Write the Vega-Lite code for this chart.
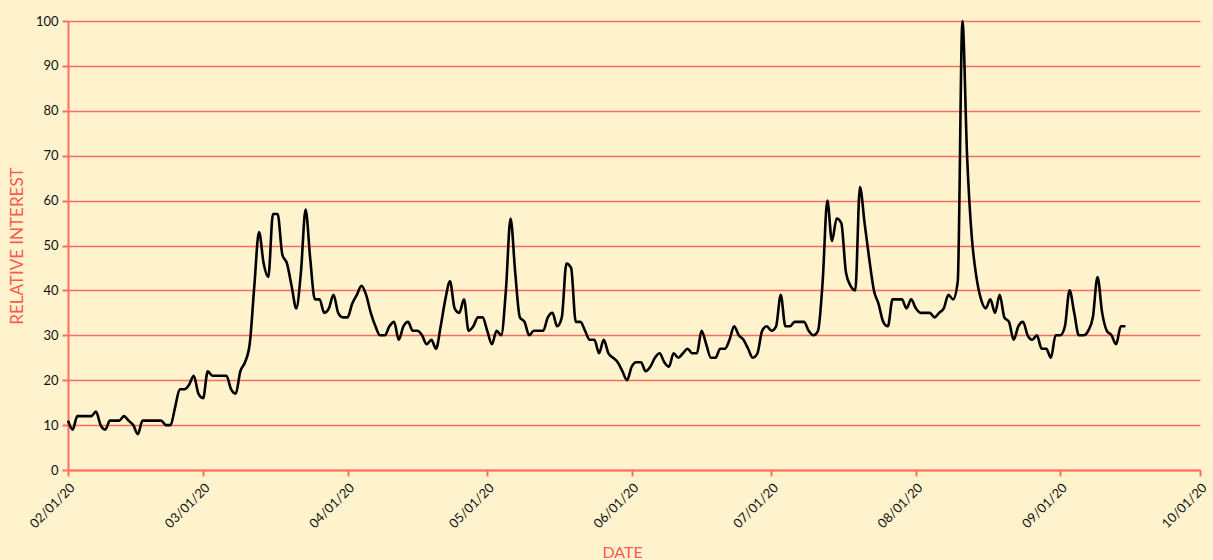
{
  "$schema": "https://vega.github.io/schema/vega-lite/v6.json",
  "width": 1132,
  "height": 449,
  "autosize": {"type": "none"},
  "padding": {"left": 68, "top": 21, "right": 13, "bottom": 90},
  "background": "#FFF3CE",
  "config": {
    "view": {"stroke": null},
    "font": "Lato",
    "axis": {
      "domainColor": "#FF6E5E",
      "domainWidth": 2,
      "tickColor": "#FF6E5E",
      "tickWidth": 2,
      "tickSize": 6,
      "gridColor": "#FF6A5C",
      "gridWidth": 1.3,
      "gridOpacity": 1,
      "labelColor": "#111111",
      "labelFont": "Lato",
      "labelFontSize": 13,
      "titleColor": "#FF5A4E",
      "titleFont": "Lato",
      "titleFontSize": 17,
      "titleFontWeight": "normal"
    }
  },
  "data": {
    "values": [
      {"date": "2020-02-01", "interest": 11},
      {"date": "2020-02-02", "interest": 9},
      {"date": "2020-02-03", "interest": 12},
      {"date": "2020-02-04", "interest": 12},
      {"date": "2020-02-05", "interest": 12},
      {"date": "2020-02-06", "interest": 12},
      {"date": "2020-02-07", "interest": 13},
      {"date": "2020-02-08", "interest": 10},
      {"date": "2020-02-09", "interest": 9},
      {"date": "2020-02-10", "interest": 11},
      {"date": "2020-02-11", "interest": 11},
      {"date": "2020-02-12", "interest": 11},
      {"date": "2020-02-13", "interest": 12},
      {"date": "2020-02-14", "interest": 11},
      {"date": "2020-02-15", "interest": 10},
      {"date": "2020-02-16", "interest": 8},
      {"date": "2020-02-17", "interest": 11},
      {"date": "2020-02-18", "interest": 11},
      {"date": "2020-02-19", "interest": 11},
      {"date": "2020-02-20", "interest": 11},
      {"date": "2020-02-21", "interest": 11},
      {"date": "2020-02-22", "interest": 10},
      {"date": "2020-02-23", "interest": 10},
      {"date": "2020-02-24", "interest": 14},
      {"date": "2020-02-25", "interest": 18},
      {"date": "2020-02-26", "interest": 18},
      {"date": "2020-02-27", "interest": 19},
      {"date": "2020-02-28", "interest": 21},
      {"date": "2020-02-29", "interest": 17},
      {"date": "2020-03-01", "interest": 16},
      {"date": "2020-03-02", "interest": 22},
      {"date": "2020-03-03", "interest": 21},
      {"date": "2020-03-04", "interest": 21},
      {"date": "2020-03-05", "interest": 21},
      {"date": "2020-03-06", "interest": 21},
      {"date": "2020-03-07", "interest": 18},
      {"date": "2020-03-08", "interest": 17},
      {"date": "2020-03-09", "interest": 22},
      {"date": "2020-03-10", "interest": 24},
      {"date": "2020-03-11", "interest": 28},
      {"date": "2020-03-12", "interest": 41},
      {"date": "2020-03-13", "interest": 53},
      {"date": "2020-03-14", "interest": 46},
      {"date": "2020-03-15", "interest": 43},
      {"date": "2020-03-16", "interest": 57},
      {"date": "2020-03-17", "interest": 57},
      {"date": "2020-03-18", "interest": 48},
      {"date": "2020-03-19", "interest": 46},
      {"date": "2020-03-20", "interest": 41},
      {"date": "2020-03-21", "interest": 36},
      {"date": "2020-03-22", "interest": 44},
      {"date": "2020-03-23", "interest": 58},
      {"date": "2020-03-24", "interest": 47},
      {"date": "2020-03-25", "interest": 38},
      {"date": "2020-03-26", "interest": 38},
      {"date": "2020-03-27", "interest": 35},
      {"date": "2020-03-28", "interest": 36},
      {"date": "2020-03-29", "interest": 39},
      {"date": "2020-03-30", "interest": 35},
      {"date": "2020-03-31", "interest": 34},
      {"date": "2020-04-01", "interest": 34},
      {"date": "2020-04-02", "interest": 37},
      {"date": "2020-04-03", "interest": 39},
      {"date": "2020-04-04", "interest": 41},
      {"date": "2020-04-05", "interest": 39},
      {"date": "2020-04-06", "interest": 35},
      {"date": "2020-04-07", "interest": 32},
      {"date": "2020-04-08", "interest": 30},
      {"date": "2020-04-09", "interest": 30},
      {"date": "2020-04-10", "interest": 32},
      {"date": "2020-04-11", "interest": 33},
      {"date": "2020-04-12", "interest": 29},
      {"date": "2020-04-13", "interest": 32},
      {"date": "2020-04-14", "interest": 33},
      {"date": "2020-04-15", "interest": 31},
      {"date": "2020-04-16", "interest": 31},
      {"date": "2020-04-17", "interest": 30},
      {"date": "2020-04-18", "interest": 28},
      {"date": "2020-04-19", "interest": 29},
      {"date": "2020-04-20", "interest": 27},
      {"date": "2020-04-21", "interest": 32},
      {"date": "2020-04-22", "interest": 38},
      {"date": "2020-04-23", "interest": 42},
      {"date": "2020-04-24", "interest": 36},
      {"date": "2020-04-25", "interest": 35},
      {"date": "2020-04-26", "interest": 38},
      {"date": "2020-04-27", "interest": 31},
      {"date": "2020-04-28", "interest": 32},
      {"date": "2020-04-29", "interest": 34},
      {"date": "2020-04-30", "interest": 34},
      {"date": "2020-05-01", "interest": 31},
      {"date": "2020-05-02", "interest": 28},
      {"date": "2020-05-03", "interest": 31},
      {"date": "2020-05-04", "interest": 30},
      {"date": "2020-05-05", "interest": 40},
      {"date": "2020-05-06", "interest": 56},
      {"date": "2020-05-07", "interest": 44},
      {"date": "2020-05-08", "interest": 34},
      {"date": "2020-05-09", "interest": 33},
      {"date": "2020-05-10", "interest": 30},
      {"date": "2020-05-11", "interest": 31},
      {"date": "2020-05-12", "interest": 31},
      {"date": "2020-05-13", "interest": 31},
      {"date": "2020-05-14", "interest": 34},
      {"date": "2020-05-15", "interest": 35},
      {"date": "2020-05-16", "interest": 32},
      {"date": "2020-05-17", "interest": 34},
      {"date": "2020-05-18", "interest": 46},
      {"date": "2020-05-19", "interest": 45},
      {"date": "2020-05-20", "interest": 33},
      {"date": "2020-05-21", "interest": 33},
      {"date": "2020-05-22", "interest": 31},
      {"date": "2020-05-23", "interest": 29},
      {"date": "2020-05-24", "interest": 29},
      {"date": "2020-05-25", "interest": 26},
      {"date": "2020-05-26", "interest": 29},
      {"date": "2020-05-27", "interest": 26},
      {"date": "2020-05-28", "interest": 25},
      {"date": "2020-05-29", "interest": 24},
      {"date": "2020-05-30", "interest": 22},
      {"date": "2020-05-31", "interest": 20},
      {"date": "2020-06-01", "interest": 23},
      {"date": "2020-06-02", "interest": 24},
      {"date": "2020-06-03", "interest": 24},
      {"date": "2020-06-04", "interest": 22},
      {"date": "2020-06-05", "interest": 23},
      {"date": "2020-06-06", "interest": 25},
      {"date": "2020-06-07", "interest": 26},
      {"date": "2020-06-08", "interest": 24},
      {"date": "2020-06-09", "interest": 23},
      {"date": "2020-06-10", "interest": 26},
      {"date": "2020-06-11", "interest": 25},
      {"date": "2020-06-12", "interest": 26},
      {"date": "2020-06-13", "interest": 27},
      {"date": "2020-06-14", "interest": 26},
      {"date": "2020-06-15", "interest": 26},
      {"date": "2020-06-16", "interest": 31},
      {"date": "2020-06-17", "interest": 28},
      {"date": "2020-06-18", "interest": 25},
      {"date": "2020-06-19", "interest": 25},
      {"date": "2020-06-20", "interest": 27},
      {"date": "2020-06-21", "interest": 27},
      {"date": "2020-06-22", "interest": 29},
      {"date": "2020-06-23", "interest": 32},
      {"date": "2020-06-24", "interest": 30},
      {"date": "2020-06-25", "interest": 29},
      {"date": "2020-06-26", "interest": 27},
      {"date": "2020-06-27", "interest": 25},
      {"date": "2020-06-28", "interest": 26},
      {"date": "2020-06-29", "interest": 31},
      {"date": "2020-06-30", "interest": 32},
      {"date": "2020-07-01", "interest": 31},
      {"date": "2020-07-02", "interest": 32},
      {"date": "2020-07-03", "interest": 39},
      {"date": "2020-07-04", "interest": 32},
      {"date": "2020-07-05", "interest": 32},
      {"date": "2020-07-06", "interest": 33},
      {"date": "2020-07-07", "interest": 33},
      {"date": "2020-07-08", "interest": 33},
      {"date": "2020-07-09", "interest": 31},
      {"date": "2020-07-10", "interest": 30},
      {"date": "2020-07-11", "interest": 31},
      {"date": "2020-07-12", "interest": 42},
      {"date": "2020-07-13", "interest": 60},
      {"date": "2020-07-14", "interest": 51},
      {"date": "2020-07-15", "interest": 56},
      {"date": "2020-07-16", "interest": 55},
      {"date": "2020-07-17", "interest": 44},
      {"date": "2020-07-18", "interest": 41},
      {"date": "2020-07-19", "interest": 40},
      {"date": "2020-07-20", "interest": 63},
      {"date": "2020-07-21", "interest": 55},
      {"date": "2020-07-22", "interest": 47},
      {"date": "2020-07-23", "interest": 40},
      {"date": "2020-07-24", "interest": 37},
      {"date": "2020-07-25", "interest": 33},
      {"date": "2020-07-26", "interest": 32},
      {"date": "2020-07-27", "interest": 38},
      {"date": "2020-07-28", "interest": 38},
      {"date": "2020-07-29", "interest": 38},
      {"date": "2020-07-30", "interest": 36},
      {"date": "2020-07-31", "interest": 38},
      {"date": "2020-08-01", "interest": 36},
      {"date": "2020-08-02", "interest": 35},
      {"date": "2020-08-03", "interest": 35},
      {"date": "2020-08-04", "interest": 35},
      {"date": "2020-08-05", "interest": 34},
      {"date": "2020-08-06", "interest": 35},
      {"date": "2020-08-07", "interest": 36},
      {"date": "2020-08-08", "interest": 39},
      {"date": "2020-08-09", "interest": 38},
      {"date": "2020-08-10", "interest": 42},
      {"date": "2020-08-11", "interest": 100},
      {"date": "2020-08-12", "interest": 70},
      {"date": "2020-08-13", "interest": 52},
      {"date": "2020-08-14", "interest": 43},
      {"date": "2020-08-15", "interest": 38},
      {"date": "2020-08-16", "interest": 36},
      {"date": "2020-08-17", "interest": 38},
      {"date": "2020-08-18", "interest": 35},
      {"date": "2020-08-19", "interest": 39},
      {"date": "2020-08-20", "interest": 34},
      {"date": "2020-08-21", "interest": 33},
      {"date": "2020-08-22", "interest": 29},
      {"date": "2020-08-23", "interest": 32},
      {"date": "2020-08-24", "interest": 33},
      {"date": "2020-08-25", "interest": 30},
      {"date": "2020-08-26", "interest": 29},
      {"date": "2020-08-27", "interest": 30},
      {"date": "2020-08-28", "interest": 27},
      {"date": "2020-08-29", "interest": 27},
      {"date": "2020-08-30", "interest": 25},
      {"date": "2020-08-31", "interest": 30},
      {"date": "2020-09-01", "interest": 30},
      {"date": "2020-09-02", "interest": 32},
      {"date": "2020-09-03", "interest": 40},
      {"date": "2020-09-04", "interest": 35},
      {"date": "2020-09-05", "interest": 30},
      {"date": "2020-09-06", "interest": 30},
      {"date": "2020-09-07", "interest": 31},
      {"date": "2020-09-08", "interest": 34},
      {"date": "2020-09-09", "interest": 43},
      {"date": "2020-09-10", "interest": 35},
      {"date": "2020-09-11", "interest": 31},
      {"date": "2020-09-12", "interest": 30},
      {"date": "2020-09-13", "interest": 28},
      {"date": "2020-09-14", "interest": 32},
      {"date": "2020-09-15", "interest": 32}
    ]
  },
  "mark": {"type": "line", "color": "#000000", "strokeWidth": 2.6, "interpolate": "monotone"},
  "encoding": {
    "x": {
      "field": "date",
      "type": "temporal",
      "title": "DATE",
      "scale": {
        "type": "utc",
        "domain": [
          {"year": 2020, "month": 2, "date": 1, "utc": true},
          {"year": 2020, "month": 10, "date": 1, "utc": true}
        ]
      },
      "axis": {
        "format": "%m/%d/%y",
        "tickCount": {"interval": "month", "step": 1},
        "labelAngle": -45,
        "labelAlign": "right",
        "labelBaseline": "top",
        "labelPadding": 5,
        "grid": false,
        "labelOverlap": false,
        "titleFontSize": 16,
        "titlePadding": 14,
        "titleX": 554
      }
    },
    "y": {
      "field": "interest",
      "type": "quantitative",
      "title": "RELATIVE INTEREST",
      "scale": {"domain": [0, 100], "nice": false},
      "axis": {
        "values": [0, 10, 20, 30, 40, 50, 60, 70, 80, 90, 100],
        "grid": true,
        "labelPadding": 4,
        "titlePadding": 9
      }
    }
  }
}
